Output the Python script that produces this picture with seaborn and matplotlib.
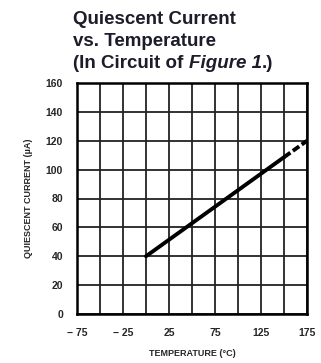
import matplotlib
matplotlib.use("Agg")
import matplotlib.pyplot as plt
import seaborn as sns
import pandas as pd

# data
temps_solid = [0, 150]
current_solid = [40, 108.6]
temps_dashed = [150, 175]
current_dashed = [108.6, 120]
xticks = [-75, -25, 25, 75, 125, 175]
xtick_labels = ["\u2212 75", "\u2212 25", "25", "75", "125", "175"]
yticks = [0, 20, 40, 60, 80, 100, 120, 140, 160]

sns.set_theme(style="white")
plt.rcParams['font.family'] = ['Liberation Sans', 'DejaVu Sans']

fig = plt.figure(figsize=(3.21, 3.63), dpi=100)
ax = fig.add_axes([77/321, 1-314/363, 230/321, 231/363])

df_s = pd.DataFrame({"t": temps_solid, "i": current_solid})
df_d = pd.DataFrame({"t": temps_dashed, "i": current_dashed})
sns.lineplot(data=df_s, x="t", y="i", ax=ax, color="black", linewidth=2.8)
sns.lineplot(data=df_d, x="t", y="i", ax=ax, color="black", linewidth=2.8,
             linestyle=(0, (2.0, 0.8)))

ax.set_xlim(-75, 175)
ax.set_ylim(0, 160)
grid_x = list(range(-75, 176, 25))
lbl_map = dict(zip(xticks, xtick_labels))
ax.set_xticks(grid_x)
ax.set_xticklabels([lbl_map.get(v, "") for v in grid_x])
ax.set_yticks(yticks)
ax.set_yticklabels([str(v) for v in yticks])
ax.grid(True, color="#222222", linewidth=1.3)
ax.set_axisbelow(True)
for s in ax.spines.values():
    s.set_color("black")
    s.set_linewidth(1.8)
ax.tick_params(axis="x", length=0, pad=10, labelsize=7.5)
ax.tick_params(axis="y", length=0, pad=10, labelsize=7.5)
for lbl in ax.get_xticklabels() + ax.get_yticklabels():
    lbl.set_fontweight("bold")
    lbl.set_fontstretch("condensed")
ax.set_xlabel("TEMPERATURE (\u00b0C)", fontsize=6.5, fontweight="bold", labelpad=8)
ax.set_ylabel("QUIESCENT CURRENT (\u00b5A)", fontsize=6.5, fontweight="bold", labelpad=9)

tc = "#1c1c2a"
fs = 13.5
fig.text(73/321, 1-24/363, "Quiescent Current", fontsize=fs, fontweight="bold", color=tc, va="baseline")
fig.text(73/321, 1-46/363, "vs. Temperature", fontsize=fs, fontweight="bold", color=tc, va="baseline")
t1 = fig.text(73/321, 1-68/363, "(In Circuit of ", fontsize=fs, fontweight="bold", color=tc, va="baseline")
fig.canvas.draw()
r = fig.canvas.get_renderer()
bb = t1.get_window_extent(r)
t2 = fig.text(bb.x1/fig.bbox.width, 1-68/363, "Figure 1", fontsize=fs, fontweight="bold",
              style="italic", color=tc, va="baseline")
bb2 = t2.get_window_extent(r)
fig.text(bb2.x1/fig.bbox.width, 1-68/363, ".)", fontsize=fs, fontweight="bold", color=tc, va="baseline")

fig.savefig("out.png", dpi=100)
